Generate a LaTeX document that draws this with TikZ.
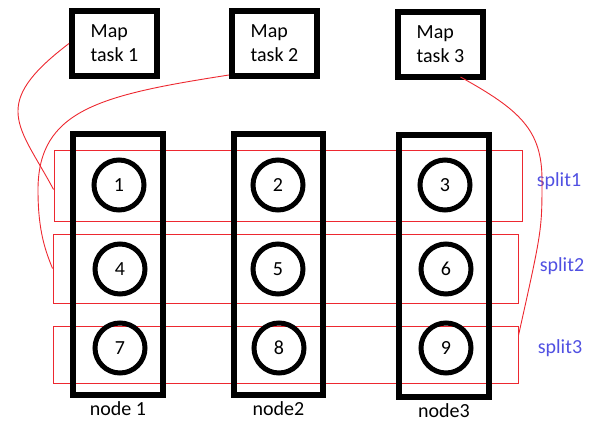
\documentclass[tikz,border=0pt]{standalone}
\usepackage{fontspec}
\setmainfont{Carlito}
\usetikzlibrary{positioning}
\definecolor{splitred}{RGB}{237,40,48}
\definecolor{splitblue}{RGB}{80,80,226}

\begin{document}
\begin{tikzpicture}[
        x=1pt, y=-1pt,
        font=\fontsize{20}{24}\selectfont,
        taskbox/.style={draw, line width=6pt, minimum width=85pt, minimum height=65pt, align=left, inner sep=0pt},
        hostbox/.style={draw, line width=6pt, minimum width=90pt, minimum height=261pt},
        hostname/.style={inner sep=0pt},
        blockcirc/.style={draw, circle, line width=5pt, minimum size=50pt, inner sep=0pt},
        splitbox/.style={draw=splitred, line width=0.9pt},
        splitlabel/.style={text=splitblue},
        link/.style={draw=splitred, line width=0.9pt}
      ]
        \useasboundingbox (0,0) rectangle (595,421);
        % splits
        \node[splitbox, minimum width=468pt, minimum height=71pt] (split1) at (288,185.5) {};
        \node[splitbox, minimum width=465pt, minimum height=69pt] (split2) at (285.5,268.5) {};
        \node[splitbox, minimum width=465pt, minimum height=57pt] (split3) at (285.5,354.5) {};
        \node[splitlabel] (lab1) at (559,181) {split1};
        \node[splitlabel] (lab2) at (562,266) {split2};
        \node[splitlabel] (lab3) at (560,348) {split3};
        % map tasks
        \node[taskbox] (taskA) at (114.5,43.5) {Map\\task 1};
        \node[taskbox] (taskB) at (274.5,43.5) {Map\\task 2};
        \node[taskbox] (taskC) at (440.5,44.5) {Map\\task 3};
        % hosts
        \node[hostbox] (host1) at (118,264.5) {};
        \node[hostbox, minimum width=89pt] (host2) at (278.5,264.5) {};
        \node[hostbox, minimum height=262pt] (host3) at (444,266) {};
        \node[hostname, below=3pt of host1] (name1) {node 1};
        \node[hostname, below=3pt of host2] (name2) {node2};
        \node[hostname, below=3pt of host3] (name3) {node3};
        % blocks
        \foreach \n/\x/\y in {1/119/185, 2/278/185, 3/445/185,
                              4/120/269, 5/278/269, 6/446/269,
                              7/120/348, 8/279/348, 9/446/348} {
          \node[blockcirc] (b\n) at (\x,\y) {\n};
        }
        % task to split
        \draw[link] (taskA.west) .. controls (-11.6,104.7) and (19.2,125.2) .. ([yshift=-4pt]split1.west);
        \draw[link] ([yshift=4pt]taskB.south west) .. controls (100,95) and (38,110) .. (38,190)
          .. controls (38,230) and (45,250) .. (split2.west);
        \draw[link] ([xshift=20pt,yshift=3pt]taskC.south) .. controls (520,110) and (542,130) .. (542,180)
          .. controls (542,230) .. ([yshift=19pt]split3.east);
      \end{tikzpicture}
\end{document}
